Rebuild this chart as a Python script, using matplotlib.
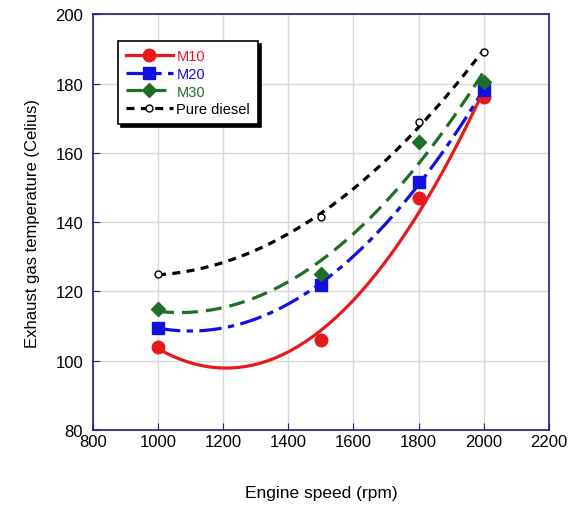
import matplotlib
matplotlib.use("Agg")
import matplotlib.pyplot as plt
import numpy as np
from matplotlib.lines import Line2D

plt.rcParams["font.family"] = ["Liberation Sans", "DejaVu Sans"]

# ── Data ─────────────────────────────────────────────────────────────────────
speed = [1000, 1500, 1800, 2000]
m10 = [104, 106, 147, 176]
m20 = [109.5, 122, 151.5, 178]
m30 = [115, 125, 163, 180.5]
diesel = [125, 141.5, 169, 189]

labels = ["M10", "M20", "M30", "Pure diesel"]
x_ticks = [800, 1000, 1200, 1400, 1600, 1800, 2000, 2200]
y_ticks = [80, 100, 120, 140, 160, 180, 200]

# ── Styles ───────────────────────────────────────────────────────────────────
styles = [
    dict(color="#e8191c", ls="-", marker="o", ms=9, mfc="#e8191c"),
    dict(color="#1010e0", ls=(0, (7, 2, 2, 2)), marker="s", ms=9, mfc="#1010e0"),
    dict(color="#1e6e28", ls=(0, (5, 2.5)), marker="D", ms=7.5, mfc="#1e6e28"),
    dict(color="black", ls=(0, (2.5, 2)), marker="o", ms=5, mfc="white"),
]

fig = plt.figure(figsize=(5.7, 5.06), dpi=100)
ax = fig.add_axes([0.163, 0.148, 0.800, 0.822])

xs = np.linspace(1000, 2000, 200)
handles = []
for series, st in zip([m10, m20, m30, diesel], styles):
    # smooth 2nd-order trend line through the measured points
    coef = np.polyfit(speed, series, 2)
    ax.plot(xs, np.polyval(coef, xs), color=st["color"], ls=st["ls"], lw=2.3, zorder=3)
    ax.plot(speed, series, ls="none", marker=st["marker"], ms=st["ms"],
            mfc=st["mfc"], mec=st["color"], mew=1.0, zorder=4)
    handles.append(Line2D([], [], color=st["color"], ls=st["ls"], lw=2.3,
                          marker=st["marker"], ms=st["ms"], mfc=st["mfc"],
                          mec=st["color"]))

ax.set_xlim(800, 2200)
ax.set_ylim(80, 200)
ax.set_xticks(x_ticks)
ax.set_yticks(y_ticks)
ax.grid(True, color="#d8d8d8", lw=1.0)
ax.set_axisbelow(True)
ax.tick_params(direction="in", length=5, color="#1a1a80", labelsize=12)
ax.tick_params(axis="x", pad=3)
ax.tick_params(axis="y", pad=7)
for sp in ax.spines.values():
    sp.set_color("#1a1a80")
    sp.set_linewidth(1.2)

ax.set_xlabel("Engine speed (rpm)", fontsize=12.5, labelpad=26)
ax.set_ylabel("Exhaust gas temperature (Celius)", fontsize=12, labelpad=11)

leg = ax.legend(handles, labels, loc="upper left", bbox_to_anchor=(0.055, 0.935),
                borderaxespad=0, fontsize=10.5, handlelength=3.2, handletextpad=0.25,
                labelspacing=0.25, borderpad=0.55, fancybox=False,
                shadow={"facecolor": "black", "edgecolor": "black", "alpha": 1.0},
                edgecolor="black", framealpha=1)
leg.get_frame().set_linewidth(1.2)
for txt, st in zip(leg.get_texts(), styles):
    txt.set_color(st["color"])

fig.savefig("out.png", dpi=100)
